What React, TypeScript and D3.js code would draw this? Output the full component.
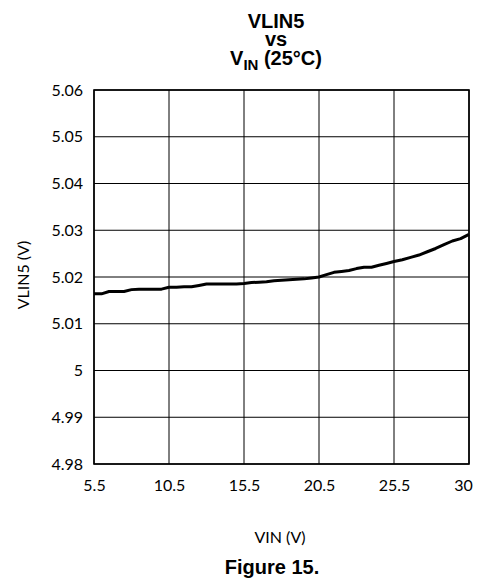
import React, { useRef, useEffect } from 'react';
import * as d3 from 'd3';

// input voltage (V)
const vin = [
  5.5, 6, 6.5, 7, 7.5, 8, 8.5, 9, 9.5, 10,
  10.5, 11, 11.5, 12, 12.5, 13, 13.5, 14, 14.5, 15,
  15.5, 16, 16.5, 17, 17.5, 18, 18.5, 19, 19.5, 20,
  20.5, 21, 21.5, 22, 22.5, 23, 23.5, 24, 24.5, 25,
  25.5, 26, 26.5, 27, 27.5, 28, 28.5, 29, 29.5, 30,
];

// VLIN5 output (V) at 25°C
const vlin5 = [
  5.0164, 5.0164, 5.0169, 5.0169, 5.0169, 5.0173, 5.0174, 5.0174, 5.0174, 5.0174,
  5.0178, 5.0178, 5.0179, 5.0179, 5.0182, 5.0185, 5.0185, 5.0185, 5.0185, 5.0185,
  5.0186, 5.0188, 5.0189, 5.019, 5.0192, 5.0193, 5.0194, 5.0195, 5.0196, 5.0198,
  5.02, 5.0205, 5.021, 5.0212, 5.0214, 5.0218, 5.0221, 5.0221, 5.0225, 5.0229,
  5.0233, 5.0237, 5.0242, 5.0247, 5.0254, 5.0261, 5.0269, 5.0277, 5.0282, 5.0291,
];

const xTicks = [5.5, 10.5, 15.5, 20.5, 25.5, 30];
const yTicks = [4.98, 4.99, 5, 5.01, 5.02, 5.03, 5.04, 5.05, 5.06];

const W = 481;
const H = 580;
const margin = { top: 90, right: 12, bottom: 116, left: 94 };

const App: React.FC = () => {
  const svgRef = useRef<SVGSVGElement | null>(null);

  useEffect(() => {
    if (!svgRef.current) return;
    const svg = d3.select(svgRef.current);
    svg.selectAll('*').remove();

    const iw = W - margin.left - margin.right;
    const ih = H - margin.top - margin.bottom;

    // ticks are evenly spaced even though the last step is 4.5 V
    const xScale = d3.scaleLinear()
      .domain(xTicks)
      .range(xTicks.map((_, i) => (i * iw) / (xTicks.length - 1)));

    const yScale = d3.scaleLinear().domain([4.98, 5.06]).range([ih, 0]);

    const g = svg.append('g').attr('transform', `translate(${margin.left},${margin.top})`);

    // gridlines
    g.selectAll('line.hgrid')
      .data(yTicks)
      .enter().append('line')
      .attr('class', 'hgrid')
      .attr('x1', 0).attr('x2', iw)
      .attr('y1', d => yScale(d)).attr('y2', d => yScale(d))
      .attr('stroke', '#000').attr('stroke-width', 1);

    g.selectAll('line.vgrid')
      .data(xTicks)
      .enter().append('line')
      .attr('class', 'vgrid')
      .attr('x1', d => xScale(d)).attr('x2', d => xScale(d))
      .attr('y1', 0).attr('y2', ih)
      .attr('stroke', '#000').attr('stroke-width', 1);

    // frame
    g.append('rect')
      .attr('width', iw).attr('height', ih)
      .attr('fill', 'none').attr('stroke', '#000').attr('stroke-width', 1.6);

    // axes labels (tick text only)
    const yAxis = d3.axisLeft(yScale).tickValues(yTicks).tickSize(0).tickPadding(11)
      .tickFormat(d => String(+d));
    g.append('g').call(yAxis)
      .call(a => a.select('.domain').remove())
      .selectAll('text')
      .attr('font-family', 'Lato, "Open Sans", sans-serif')
      .attr('font-size', 16)
      .attr('fill', '#000');

    const xAxis = d3.axisBottom(xScale).tickValues(xTicks).tickSize(0).tickPadding(16)
      .tickFormat(d => String(+d));
    g.append('g').attr('transform', `translate(0,${ih})`).call(xAxis)
      .call(a => a.select('.domain').remove())
      .selectAll('text')
      .attr('font-family', 'Lato, "Open Sans", sans-serif')
      .attr('font-size', 16)
      .attr('fill', '#000')
      .attr('dx', (_, i) => (i === xTicks.length - 1 ? -6 : 0));

    // data line
    const line = d3.line<number>()
      .x((_, i) => xScale(vin[i]))
      .y(d => yScale(d));

    g.append('path')
      .datum(vlin5)
      .attr('d', line)
      .attr('fill', 'none')
      .attr('stroke', '#000')
      .attr('stroke-width', 3)
      .attr('stroke-linejoin', 'round');

    // axis titles
    svg.append('text')
      .attr('x', 280).attr('y', 543)
      .attr('text-anchor', 'middle')
      .attr('font-family', 'Lato, "Open Sans", sans-serif')
      .attr('font-size', 16)
      .text('VIN (V)');

    svg.append('text')
      .attr('transform', `translate(29,275) rotate(-90)`)
      .attr('text-anchor', 'middle')
      .attr('font-family', 'Lato, "Open Sans", sans-serif')
      .attr('font-size', 16)
      .text('VLIN5 (V)');

    // title
    const titleFont = '"Liberation Sans", Arial, sans-serif';
    const cx = 276;
    svg.append('text')
      .attr('x', cx).attr('y', 28)
      .attr('text-anchor', 'middle')
      .attr('font-family', titleFont).attr('font-weight', 'bold').attr('font-size', 20)
      .text('VLIN5');
    svg.append('text')
      .attr('x', cx).attr('y', 46)
      .attr('text-anchor', 'middle')
      .attr('font-family', titleFont).attr('font-weight', 'bold').attr('font-size', 20)
      .text('vs');
    const t3 = svg.append('text')
      .attr('x', cx).attr('y', 65)
      .attr('text-anchor', 'middle')
      .attr('font-family', titleFont).attr('font-weight', 'bold').attr('font-size', 20);
    t3.append('tspan').text('V');
    t3.append('tspan').attr('font-size', 15).attr('dy', 5).text('IN');
    t3.append('tspan').attr('dy', -5).text(' (25°C)');

    svg.append('text')
      .attr('x', 272).attr('y', 574)
      .attr('text-anchor', 'middle')
      .attr('font-family', titleFont).attr('font-weight', 'bold').attr('font-size', 20)
      .text('Figure 15.');
  }, []);

  return (
    <svg
      ref={svgRef}
      width={W}
      height={H}
      style={{ position: 'absolute', left: 0, top: 0, background: '#fff' }}
    />
  );
};

export default App;
